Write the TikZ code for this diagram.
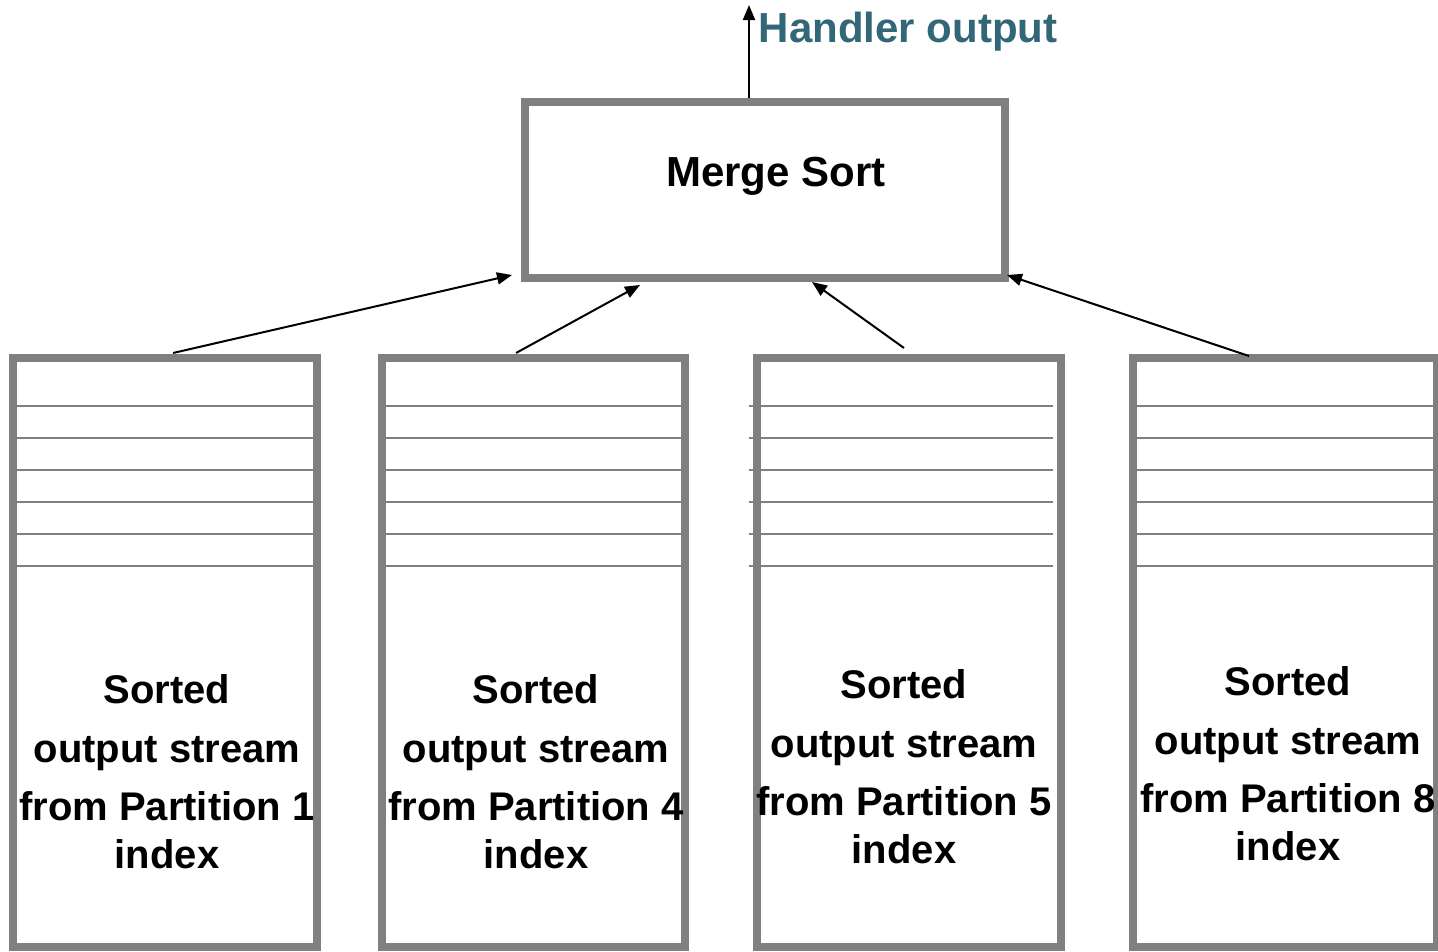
\documentclass[tikz,border=0pt]{standalone}
\usepackage{fontspec}
\setmainfont{Liberation Sans}
\usetikzlibrary{arrows.meta}
\definecolor{boxgray}{RGB}{128,128,128}
\definecolor{teal}{RGB}{50,103,120}
\begin{document}
\begin{tikzpicture}[x=1pt,y=-1pt,
  partbox/.style={draw=boxgray,line width=8pt,rectangle,inner sep=0pt,minimum width=304pt,minimum height=589pt},
  mergebox/.style={draw=boxgray,line width=8pt,rectangle,inner sep=0pt,minimum width=480pt,minimum height=176pt},
  rowline/.style={draw=boxgray,line width=2pt},
  flow/.style={draw=black,line width=2pt,-{Triangle[length=15pt,width=12pt]}},
  ptext/.style={inner sep=0pt,anchor=base,font=\bfseries\fontsize{40}{48}\selectfont},
  btext/.style={inner sep=0pt,font=\bfseries\fontsize{42}{50}\selectfont}]
\useasboundingbox (0,0) rectangle (1438,951);
\fill[white] (0,0) rectangle (1438,951);
% merge box
\node[mergebox] (merge) at (764.5,190) {};
\node[btext,anchor=base] (mlabel) at (776,186) {Merge Sort};
\node[btext,anchor=base west,text=teal] (hlabel) at (758.5,42) {Handler output};
% partition boxes
\node[partbox] (b1) at (165,652.5) {};
\node[partbox,minimum width=303pt] (b2) at (533.5,652.5) {};
\node[partbox] (b3) at (909,652) {};
\node[partbox] (b4) at (1285,652.5) {};
% row lines
\foreach \y in {406,438,470,502,534,566}{
  \draw[rowline] (17,\y) -- (313,\y);
  \draw[rowline] (386,\y) -- (681,\y);
  \draw[rowline] (749,\y) -- (1053,\y);
  \draw[rowline] (1137,\y) -- (1433,\y);
}
% texts
\foreach \n/\x/\ya/\yb/\yc/\yd/\p in {1/167/703/762/820/868/1, 2/536/703/762/820/868/4, 3/904/698/757/815/863/5, 4/1288/695/754/812/860/8}{
  \node[ptext] (t\n a) at (\x,\ya) {Sorted};
  \node[ptext] (t\n b) at (\x,\yb) {output stream};
  \node[ptext] (t\n c) at (\x,\yc) {from Partition \p};
  \node[ptext] (t\n d) at (\x,\yd) {index};
}
% connector end points
\coordinate (s1) at (173,353);
\coordinate (e1) at (512,275);
\coordinate (s2) at (516,353);
\coordinate (e2) at (640,285);
\coordinate (s3) at (904,348);
\coordinate (e3) at (812,282);
\coordinate (s4) at (1249,356);
\coordinate (e4) at (1007,275);
\coordinate (s0) at (749,98);
\coordinate (e0) at (749,5);
\draw[flow] (s1) -- (e1);
\draw[flow] (s2) -- (e2);
\draw[flow] (s3) -- (e3);
\draw[flow] (s4) -- (e4);
\draw[flow] (s0) -- (e0);
\end{tikzpicture}
\end{document}
